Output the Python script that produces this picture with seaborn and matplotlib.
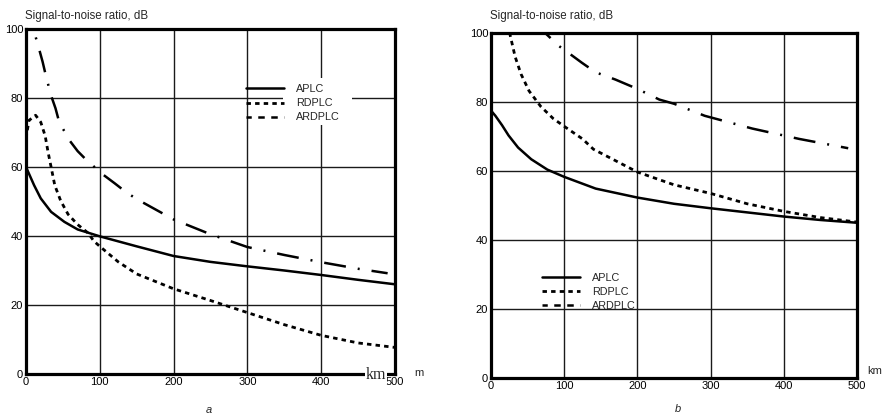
import matplotlib
matplotlib.use("Agg")
import matplotlib.pyplot as plt
import seaborn as sns
from matplotlib.lines import Line2D
from matplotlib.patches import Rectangle

sns.set_theme(style="white")
plt.rcParams['font.family'] = ['Liberation Sans', 'DejaVu Sans']

# ---------------- data ----------------
series_names = ["APLC", "RDPLC", "ARDPLC"]
x_ticks = [0, 100, 200, 300, 400, 500]
y_ticks = [0, 20, 40, 60, 80, 100]

# Panel a
a_aplc_km = [0, 11, 20, 34, 52, 70, 100, 150, 200, 250, 300, 350, 400, 450, 500]
a_aplc_db = [60, 54.7, 50.9, 47, 44.1, 41.9, 39.9, 37, 34.2, 32.5, 31.2, 30, 28.7, 27.3, 26]
a_rdplc_km = [0, 4, 13, 20, 26, 30, 34, 39, 47, 57, 70, 84, 92, 100, 125, 150, 200, 250, 300, 350, 400, 450, 500]
a_rdplc_db = [68.2, 73.5, 75, 73, 69, 64.2, 60, 54.7, 50.2, 46.3, 43.3, 40.9, 38.5, 37, 32.5, 29, 24.7, 21.3, 17.8, 14.3, 11.2, 9, 7.7]
a_ardplc_km = [0, 10, 18, 22.5, 27, 34, 40, 45, 59, 70, 82, 105, 120, 135, 150, 200, 250, 300, 350, 400, 450, 490]
a_ardplc_db = [107, 100, 94, 90.5, 86.4, 80.7, 77, 73, 67.7, 64.6, 62, 57.7, 55.3, 52.8, 50.7, 44.8, 40.5, 36.8, 34.5, 32.4, 30.5, 29.2]

# Panel b
b_aplc_km = [0, 6, 15, 24, 37, 55, 77, 100, 143, 200, 250, 300, 350, 400, 450, 500]
b_aplc_db = [77.5, 76, 73.3, 70.3, 66.8, 63.4, 60.4, 58.3, 54.9, 52.3, 50.5, 49.2, 48, 46.8, 45.8, 45]
b_rdplc_km = [20, 26, 33, 41, 52, 68, 85, 101, 125, 140, 200, 250, 300, 350, 400, 450, 500]
b_rdplc_db = [105, 99.5, 93.1, 88.1, 83.2, 78.7, 75.2, 72.8, 69.3, 66.3, 59.7, 56, 53.5, 50.5, 48.3, 46.5, 45.2]
b_ardplc_km = [60, 74, 93, 108, 124, 143, 170, 200, 230, 250, 292, 357, 421, 488]
b_ardplc_db = [103, 100, 96.2, 93.9, 91.4, 88.6, 86.5, 83.8, 80.7, 79.5, 76, 72.3, 69.3, 66.6]

# ---------------- styling ----------------
curve_styles = {
    "APLC": ("-", 1.8),
    "RDPLC": ((0, (1.6, 1.5)), 2.0),
    "ARDPLC": ((0, (8.8, 4.8, 0.8, 4.8)), 1.8),
}
legend_styles = {
    "APLC": ("-", 1.8),
    "RDPLC": ((0, (1.6, 1.5)), 2.0),
    "ARDPLC": ((0.5, (2.6, 2.6)), 1.8),
}

W, H = 884, 417
fig = plt.figure(figsize=(W / 100, H / 100), dpi=100)


def px_axes(l, r, t, b):
    return fig.add_axes([l / W, 1 - b / H, (r - l) / W, (b - t) / H])


ax_a = px_axes(26, 395, 29, 374)
ax_b = px_axes(491, 857, 33, 378)

panels = [
    (ax_a, [(a_aplc_km, a_aplc_db), (a_rdplc_km, a_rdplc_db), (a_ardplc_km, a_ardplc_db)]),
    (ax_b, [(b_aplc_km, b_aplc_db), (b_rdplc_km, b_rdplc_db), (b_ardplc_km, b_ardplc_db)]),
]

for ax, data in panels:
    for name, (xs, ys) in zip(series_names, data):
        ls, lw = curve_styles[name]
        sns.lineplot(x=xs, y=ys, ax=ax, color="black", lw=lw,
                     linestyle=ls, sort=False, zorder=3)
    ax.set_xlim(0, 500)
    ax.set_ylim(0, 100)
    ax.set_xticks(x_ticks)
    ax.set_yticks(y_ticks)
    ax.set_xticklabels([str(v) for v in x_ticks])
    ax.set_yticklabels([str(v) for v in y_ticks])
    ax.set_xlabel("")
    ax.set_ylabel("")
    ax.grid(True, color="#1a1a1a", lw=1.0)
    ax.set_axisbelow(True)
    ax.tick_params(length=0, pad=2, labelsize=8, colors="black")
    for s in ax.spines.values():
        s.set_visible(True)
        s.set_color("black")
        s.set_linewidth(2.3)
    ax.set_facecolor("white")


def make_handles():
    return [Line2D([0], [0], color="black", lw=legend_styles[n][1], linestyle=legend_styles[n][0])
            for n in series_names]


# white patch behind legend text in panel a
ax_a.add_patch(Rectangle((0.696, 0.722), 0.187, 0.136, transform=ax_a.transAxes,
                         facecolor="white", edgecolor="none", zorder=1))

leg_kw = dict(loc="upper left", frameon=False, fontsize=7.8, handlelength=3.5,
              handletextpad=1.1, labelspacing=0.38, borderpad=0, borderaxespad=0)
ax_a.legend(make_handles(), series_names, bbox_to_anchor=(0.596, 0.840), **leg_kw)
ax_b.legend(make_handles(), series_names, bbox_to_anchor=(0.139, 0.305), **leg_kw)

# y-axis titles
fig.text(25 / W, 1 - 16 / H, "Signal-to-noise ratio, dB", fontsize=8.3, va="center", ha="left")
fig.text(490 / W, 1 - 16 / H, "Signal-to-noise ratio, dB", fontsize=8.3, va="center", ha="left")

# km labels
fig.text(386 / W, 1 - 375 / H, "km", family="Liberation Serif", fontsize=11.5,
         ha="right", va="center",
         bbox=dict(facecolor="white", edgecolor="none", pad=0.5))
fig.text(414 / W, 1 - 373 / H, "m", fontsize=8, ha="left", va="center")
fig.text(867 / W, 1 - 371 / H, "km", fontsize=8, ha="left", va="center")

# panel captions
fig.text(209 / W, 1 - 410 / H, "a", fontsize=8, style="italic", ha="center", va="center")
fig.text(678 / W, 1 - 409 / H, "b", fontsize=8, style="italic", ha="center", va="center")

fig.savefig("out.png", dpi=100, facecolor="white")
